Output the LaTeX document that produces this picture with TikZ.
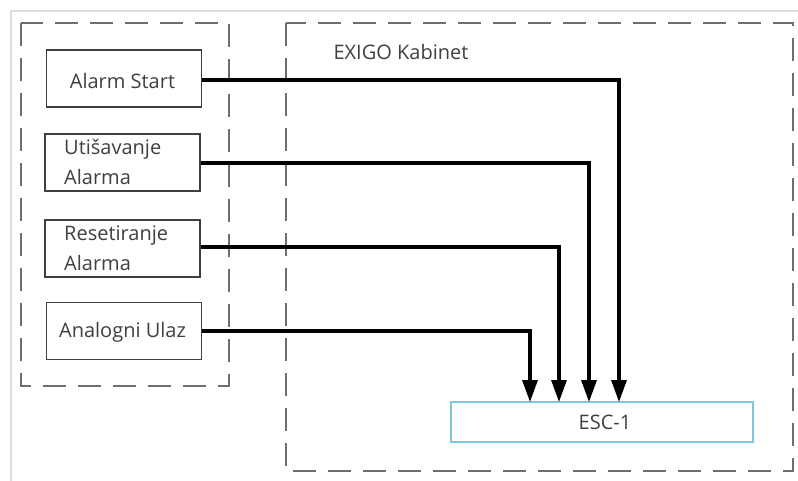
\documentclass[tikz,border=0pt]{standalone}
\usepackage{fontspec}
\setmainfont{Open Sans}
\usetikzlibrary{arrows.meta}
\definecolor{txt}{RGB}{64,64,64}
\definecolor{dashc}{RGB}{110,110,110}
\definecolor{escblue}{RGB}{125,200,220}
\definecolor{frame}{RGB}{220,220,220}
\tikzset{
  lbl/.style={text=txt, font=\fontsize{20}{30}\selectfont, inner sep=0pt},
  inbox/.style={draw=txt, line width=1.3pt, minimum width=155pt, minimum height=57pt, inner sep=0pt},
  group/.style={draw=dashc, line width=2pt, dash pattern=on 23pt off 12pt},
  conn/.style={line width=3.2pt, -{Triangle[width=15pt,length=22pt]}},
}
\begin{document}
\begin{tikzpicture}[x=1pt,y=-1pt]
\useasboundingbox (0,0) rectangle (798,481);
\fill[white] (0,0) rectangle (798,481);
\draw[frame, line width=2pt] (11,481) -- (11,11) -- (798,11);
% groups
\draw[group] (21,23) rectangle (229,386);
\draw[group] (286,23) rectangle (793,471);
\node[lbl, anchor=base] (kab) at (401,60) {EXIGO Kabinet};
% input boxes
\node[inbox] (as) at (124,78.5) {};
\node[inbox] (ut) at (122.5,162.5) {};
\node[inbox] (re) at (122.5,248.5) {};
\node[inbox] (an) at (124,331) {};
\node[lbl, anchor=base] (ast) at (122.5,89) {Alarm Start};
\node[lbl, anchor=base west, align=left] (utt) at (64,185) {Utišavanje\\Alarma};
\node[lbl, anchor=base west, align=left] (ret) at (64,270) {Resetiranje\\Alarma};
\node[lbl, anchor=base] (ant) at (122.5,337) {Analogni Ulaz};
% ESC
\node[draw=escblue, line width=1.5pt, minimum width=302pt, minimum height=40pt, inner sep=0pt] (esc) at (602,422) {};
\node[lbl, anchor=base] (esct) at (605,429) {ESC-1};
\coordinate (t1) at (530,402);
\coordinate (t2) at (559,402);
\coordinate (t3) at (589,402);
\coordinate (t4) at (619,402);
\draw[conn] (as.east |- 0,80) -| (t4);
\draw[conn] (ut.east |- 0,163) -| (t3);
\draw[conn] (re.east |- 0,247) -| (t2);
\draw[conn] (an.east |- 0,331) -| (t1);
\end{tikzpicture}
\end{document}
